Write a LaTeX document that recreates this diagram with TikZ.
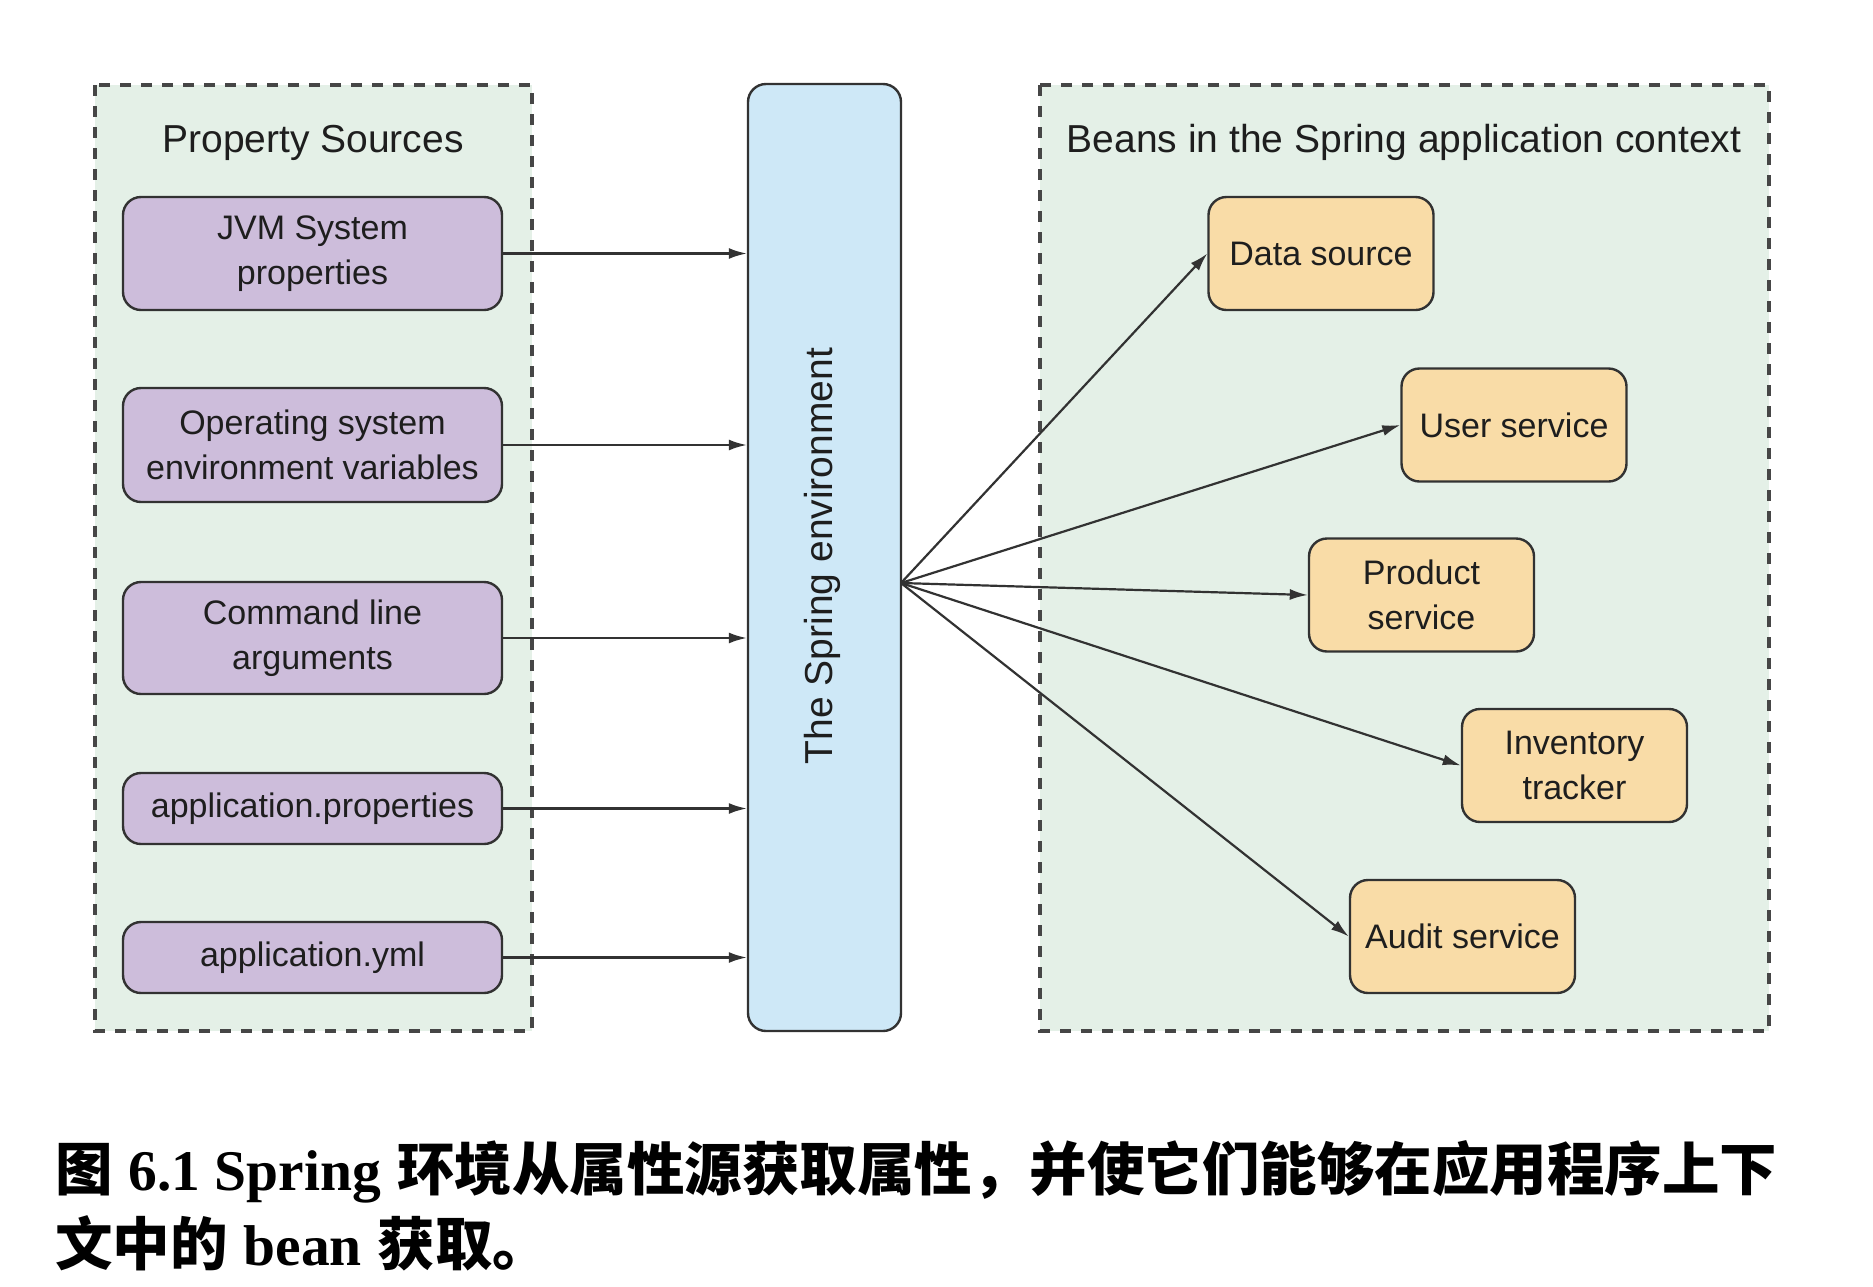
\documentclass[tikz,border=0pt]{standalone}
\usepackage{fontspec}
\setmainfont{Liberation Sans}
\newfontfamily\cjk{Noto Sans CJK SC}
\newfontfamily\capserif{Liberation Serif}
\usetikzlibrary{arrows.meta}
\definecolor{grpfill}{RGB}{228,240,231}
\definecolor{purp}{RGB}{205,189,219}
\definecolor{oran}{RGB}{249,220,167}
\definecolor{envblue}{RGB}{206,232,247}
\definecolor{edge}{RGB}{50,50,50}
\definecolor{dashc}{RGB}{70,70,70}
\definecolor{txt}{RGB}{30,30,30}
\tikzset{
  grp/.style={draw=dashc, fill=grpfill, line width=3.3pt, dash pattern=on 11pt off 10pt},
  srcbox/.style={draw=edge, fill=purp, line width=2.4pt, rounded corners=18pt, minimum width=379pt, inner sep=0pt, align=center, text=txt, font=\fontsize{34}{45}\selectfont},
  beanbox/.style={draw=edge, fill=oran, line width=2.4pt, rounded corners=18pt, minimum width=225pt, minimum height=113pt, inner sep=0pt, align=center, text=txt, font=\fontsize{34}{45}\selectfont},
  envbox/.style={draw=edge, fill=envblue, line width=2.4pt, rounded corners=18pt, minimum width=153pt, minimum height=947pt, inner sep=0pt},
  ttl/.style={text=txt, font=\fontsize{39}{46}\selectfont, anchor=base, inner sep=0pt},
  conn/.style={draw=edge, line width=2.2pt, -{Latex[length=18pt,width=11pt]}},
  captext/.style={anchor=base west, inner sep=0pt, text=black, font=\fontsize{57.5}{70}\selectfont\bfseries}
}
\begin{document}
\begin{tikzpicture}[x=1pt,y=-1pt]
\useasboundingbox (0,0) rectangle (1873,1286);
\fill[white] (0,0) rectangle (1873,1286);
% groups
\path[grp] (95,85) rectangle (532,1031);
\path[grp] (1040,85) rectangle (1769,1031);
\node[ttl] (pstitle) at (313,152) {Property Sources};
\node[ttl] (bntitle) at (1404,152) {Beans in the Spring application context};
% sources
\node[srcbox, minimum height=113pt] (jvm) at (312.5,253.5) {JVM System\\properties};
\node[srcbox, minimum height=114pt] (os) at (312.5,445) {Operating system\\environment variables};
\node[srcbox, minimum height=112pt] (cmd) at (312.5,638) {Command line\\arguments};
\node[srcbox, minimum height=71pt] (aprop) at (312.5,808.5) {application.properties};
\node[srcbox, minimum height=71pt] (ayml) at (312.5,957.5) {application.yml};
% environment
\node[envbox] (env) at (824.5,557.5) {};
\node[rotate=90, text=txt, font=\fontsize{39}{46}\selectfont, inner sep=0pt] (envlbl) at (822,556) {The Spring environment};
\coordinate (hub) at (901,583);
% beans
\node[beanbox] (ds) at (1321,253.5) {Data source};
\node[beanbox] (us) at (1514,425) {User service};
\node[beanbox] (ps) at (1421.5,595) {Product\\service};
\node[beanbox] (it) at (1574.5,765.5) {Inventory\\tracker};
\node[beanbox] (as) at (1462.5,936.5) {Audit service};
% connectors
\foreach \s in {jvm,os,cmd,aprop,ayml}{
  \draw[conn] (\s.east) -- (\s.east -| env.west);
}
\foreach \b in {ds,us,ps,it,as}{
  \draw[conn] (hub) -- (\b.west);
}
% caption
\node[captext] (cap1) at (55,1190) {{\cjk 图} {\capserif 6.1 Spring} {\cjk 环境从属性源获取属性，并使它们能够在应用程序上下}};
\node[captext] (cap2) at (55,1265) {{\cjk 文中的} {\capserif bean} {\cjk 获取。}};
\end{tikzpicture}
\end{document}
